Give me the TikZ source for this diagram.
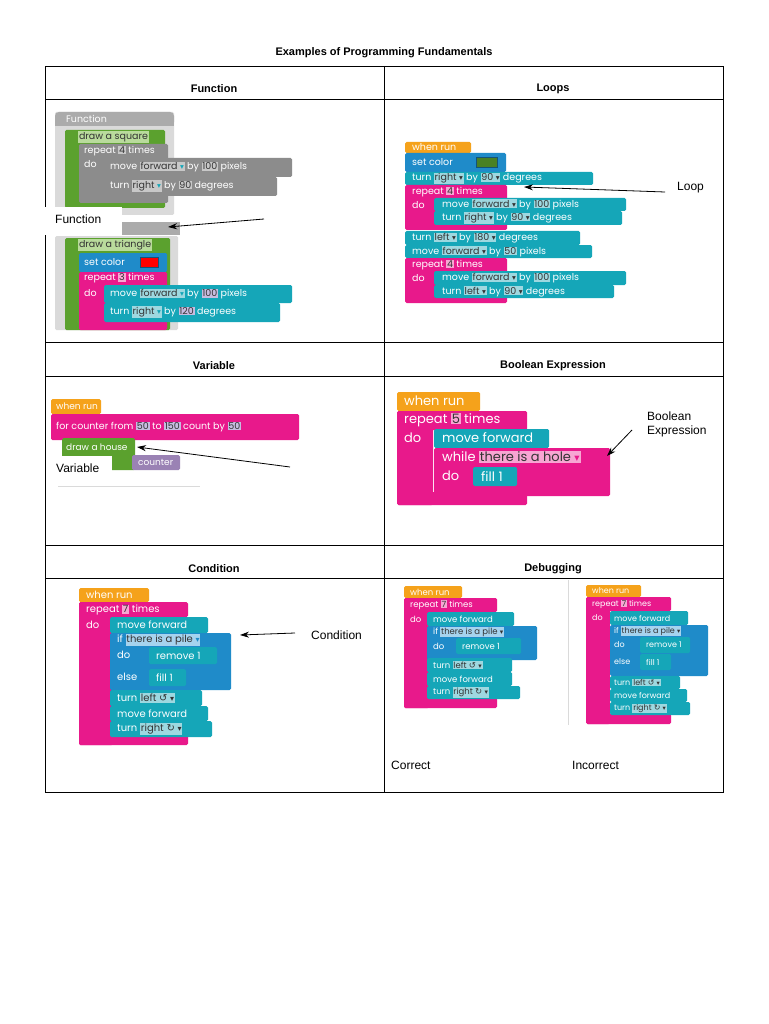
\documentclass[tikz,border=0pt]{standalone}
\usepackage{fontspec}
\setmainfont{Liberation Sans}
\newfontfamily\blkf{Poppins}
\newfontfamily\symf{DejaVu Sans}
\usetikzlibrary{arrows.meta}
\definecolor{pk}{HTML}{E8198B}
\definecolor{tl}{HTML}{15A6B8}
\definecolor{og}{HTML}{F5A21B}
\definecolor{gr}{HTML}{5BA12E}
\definecolor{bl}{HTML}{1F8BC9}
\definecolor{gy}{HTML}{8C8C8C}
\definecolor{lg}{HTML}{DADADA}
\definecolor{mg}{HTML}{ABABAB}
\definecolor{pu}{HTML}{9A82B4}
\definecolor{dk}{HTML}{333333}
\definecolor{ptl}{HTML}{9ED8E0}
\definecolor{ppk}{HTML}{F7A6D3}
\definecolor{pgy}{HTML}{C8C8C8}
\definecolor{ppu}{HTML}{C7BCE0}
\definecolor{pgr}{HTML}{B9DB9C}
\definecolor{pbl}{HTML}{A6D3EE}
\newcommand\dn{{\symf\scalebox{0.8}{▾}}}
\newcommand\lft{{\symf ↺}}
\newcommand\rgt{{\symf ↻}}
\newcommand\B[5]{\fill[#5,rounded corners=1.5pt] (#1,#2) rectangle (#3,#4);}
\newcommand\ib[2]{{\setlength\fboxsep{0.8pt}\colorbox{#1}{\textcolor{dk}{#2}}}}
\newcommand\T[4][9.5]{\node[anchor=west,inner sep=0,text=white,font=\blkf\fontsize{#1}{#1}\selectfont] at (#2,#3) {#4};}
\tikzset{lbl/.style={anchor=west,inner sep=0,font=\fontsize{12}{14}\selectfont},
hdr/.style={font=\bfseries\fontsize{11}{13}\selectfont},
arr/.style={-{Stealth[length=9pt,width=6pt]},line width=0.8pt}}
\begin{document}
\begin{tikzpicture}[x=1pt,y=-1pt]
\useasboundingbox[fill=white] (0,0) rectangle (768,1024);
% table
\node[hdr] (title) at (384,53) {Examples of Programming Fundamentals};
\draw[line width=0.7pt] (45,66) rectangle (723,792);
\foreach \yy in {99,342,376,545,578} \draw[line width=0.6pt] (45,\yy) -- (723,\yy);
\draw[line width=0.6pt] (384,66) -- (384,792);
\node[hdr] (h1) at (214,89) {Function};
\node[hdr] (h2) at (553,89) {Loops};
\node[hdr] (h3) at (214,366) {Variable};
\node[hdr] (h4) at (553,366) {Boolean Expression};
\node[hdr] (h5) at (214,569) {Condition};
\node[hdr] (h6) at (553,569) {Debugging};
% ---- Function
\B{55}{112}{174}{215}{lg}
\fill[mg,rounded corners=4pt] (55,112) rectangle (174,126); \fill[mg] (55,121) rectangle (174,126);
\T{66}{119}{Function}
\B{65}{130}{165}{208}{gr}
\T{78}{137}{\ib{pgr}{draw a square}}
\B{79}{144}{168}{203}{gy}
\T{84}{151}{repeat \ib{pgy}{4} times}
\T{84}{164}{do}
\B{104}{158}{292}{177}{gy}
\T{110}{167}{move \ib{pgy}{forward \textcolor{tl}{\dn}} by \ib{pgy}{100} pixels}
\B{104}{177}{277}{196}{gy}
\T{110}{186}{turn \ib{pgy}{right \textcolor{tl}{\dn}} by \ib{pgy}{90} degrees}
\fill[white] (45,207) rectangle (122,235);
\fill[mg] (122,222) rectangle (180,235);
\node[lbl] (flab) at (55,219) {Function};
\B{55}{236}{178}{330}{lg}
\B{65}{238}{170}{330}{gr}
\T{78}{245}{\ib{pgr}{draw a triangle}}
\B{79}{253}{167}{272}{bl}
\T{84}{262}{set color}
\fill[red,draw=bl!60!black] (140,257) rectangle (158,267);
\B{79}{272}{167}{330}{pk}
\T{84}{278}{repeat \ib{ppk}{3} times}
\T{84}{293}{do}
\B{104}{285}{292}{303}{tl}
\T{110}{294}{move \ib{ptl}{forward \textcolor{tl}{\dn}} by \ib{ppu}{100} pixels}
\B{104}{303}{280}{322}{tl}
\T{110}{312}{turn \ib{ptl}{right \textcolor{tl}{\dn}} by \ib{ppu}{120} degrees}
\coordinate (fa) at (264,219);
\coordinate (fb) at (168,227);
\draw[arr] (fa) -- (fb);
% ---- Loops
\B{405}{142}{471}{153}{og}
\T{412}{147.5}{when run}
\B{405}{153}{506}{172}{bl}
\T{412}{162}{set color}
\fill[gr!80!black,draw=bl!60!black] (476,157) rectangle (497,167);
\B{405}{172}{593}{185}{tl}
\T{412}{178.5}{turn \ib{ptl}{right \dn} by \ib{ptl}{90 \dn} degrees}
\B{405}{185}{507}{230}{pk}
\T{412}{192}{repeat \ib{ppk}{4} times}
\T{412}{205}{do}
\B{434}{198}{626}{211}{tl}
\T{442}{204.5}{move \ib{ptl}{forward \dn} by \ib{ptl}{100} pixels}
\B{434}{211}{622}{225}{tl}
\T{442}{218}{turn \ib{ptl}{right \dn} by \ib{ptl}{90 \dn} degrees}
\B{405}{231}{580}{245}{tl}
\T{412}{238}{turn \ib{ptl}{left \dn} by \ib{ptl}{180 \dn} degrees}
\B{405}{245}{592}{258}{tl}
\T{412}{251.5}{move \ib{ptl}{forward \dn} by \ib{ptl}{50} pixels}
\B{405}{258}{507}{303}{pk}
\T{412}{265}{repeat \ib{ppk}{4} times}
\T{412}{278}{do}
\B{434}{271}{626}{285}{tl}
\T{442}{278}{move \ib{ptl}{forward \dn} by \ib{ptl}{100} pixels}
\B{434}{285}{614}{298}{tl}
\T{442}{291.5}{turn \ib{ptl}{left \dn} by \ib{ptl}{90 \dn} degrees}
\node[lbl] (llab) at (677,188) {Loop};
\coordinate (la) at (665,192);
\coordinate (lb) at (524,187);
\draw[arr] (la) -- (lb);
% ---- Variable
\B{51}{399}{101}{414}{og}
\T[9]{56}{406}{when run}
\B{51}{414}{299}{440}{pk}
\T[9.5]{56}{427}{for counter from \ib{ppu}{50} to \ib{ppu}{150} count by \ib{ppu}{50}}
\B{62}{438}{135}{470}{gr}
\T[9]{66}{447}{draw a house}
\fill[white] (50,456) rectangle (112,480);
\B{132}{455}{180}{470}{pu}
\T[9]{138}{462.5}{counter}
\draw[lg] (58,486) -- (200,486);
\node[lbl] (vlab) at (56,468) {Variable};
\coordinate (va) at (290,467);
\coordinate (vb) at (137,447);
\draw[arr] (va) -- (vb);
% ---- Boolean
\B{397}{392}{480}{411}{og}
\T[13]{404}{401}{when run}
\B{397}{411}{527}{430}{pk}
\B{397}{411}{433}{505}{pk}
\B{397}{492}{527}{505}{pk}
\T[13]{404}{420}{repeat \ib{ppk}{5} times}
\T[13]{404}{438}{do}
\B{434}{429}{549}{448}{tl}
\T[13]{442}{438}{move forward}
\B{434}{448}{610}{496}{pk}
\T[13]{442}{457}{while \ib{ppk}{there is a hole \textcolor{pk}{\dn}}}
\T[13]{442}{476}{do}
\B{473}{467}{517}{486}{tl}
\T[13]{481}{476.5}{fill 1}
\node[lbl,align=left] (blab) at (647,424) {Boolean\\Expression};
\coordinate (ba) at (632,430);
\coordinate (bb) at (607,456);
\draw[arr] (ba) -- (bb);
% ---- Condition
\B{79}{588}{149}{602}{og}
\T[10]{86}{595}{when run}
\B{79}{602}{188}{617}{pk}
\B{79}{602}{113}{745}{pk}
\B{79}{735}{188}{745}{pk}
\T[10]{86}{610}{repeat \ib{ppk}{7} times}
\T[10]{86}{625}{do}
\B{110}{617}{208}{633}{tl}
\T[10]{117}{625}{move forward}
\B{110}{633}{231}{690}{bl}
\T[10]{117}{640}{if \ib{pbl}{there is a pile \textcolor{bl}{\dn}}}
\T[10]{117}{655}{do}
\T[10]{117}{677}{else}
\B{149}{647}{217}{664}{tl}
\T[10]{156}{655.5}{remove 1}
\B{149}{669}{186}{686}{tl}
\T[10]{156}{677.5}{fill 1}
\B{110}{690}{202}{706}{tl}
\T[10]{117}{698}{turn \ib{ptl}{left \lft\ \dn}}
\B{110}{706}{208}{721}{tl}
\T[10]{117}{713.5}{move forward}
\B{110}{721}{212}{737}{tl}
\T[10]{117}{729}{turn \ib{ptl}{right \rgt\ \dn}}
\node[lbl] (clab) at (311,635) {Condition};
\coordinate (ca) at (295,633);
\coordinate (cb) at (240,635);
\draw[arr] (ca) -- (cb);
% ---- Debugging correct
\B{404}{586}{462}{598}{og}
\T[8.5]{410}{592}{when run}
\B{404}{598}{497}{612}{pk}
\B{404}{598}{429}{708}{pk}
\B{404}{698}{497}{708}{pk}
\T[8.5]{410}{605}{repeat \ib{ppk}{7} times}
\T[8.5]{410}{619}{do}
\B{427}{612}{514}{626}{tl}
\T[8.5]{433}{619}{move forward}
\B{427}{626}{537}{660}{bl}
\T[8.5]{433}{632}{if \ib{pbl}{there is a pile \dn}}
\T[8.5]{433}{646}{do}
\B{456}{638}{521}{654}{tl}
\T[8.5]{462}{646}{remove 1}
\B{427}{658}{512}{672}{tl}
\T[8.5]{433}{665}{turn \ib{ptl}{left \lft\ \dn}}
\B{427}{672}{512}{686}{tl}
\T[8.5]{433}{679}{move forward}
\B{427}{686}{520}{699}{tl}
\T[8.5]{433}{692.5}{turn \ib{ptl}{right \rgt\ \dn}}
\draw[lg] (568,580) -- (568,725);
% incorrect
\B{586}{585}{641}{597}{og}
\T[8]{592}{591}{when run}
\B{586}{597}{671}{611}{pk}
\B{586}{597}{610}{724}{pk}
\B{586}{714}{671}{724}{pk}
\T[8]{592}{604}{repeat \ib{ppk}{7} times}
\T[8]{592}{618}{do}
\B{610}{611}{688}{625}{tl}
\T[8]{614}{618}{move forward}
\B{610}{625}{708}{676}{bl}
\T[8]{614}{631}{if \ib{pbl}{there is a pile \dn}}
\T[8]{614}{645}{do}
\T[8]{614}{662}{else}
\B{640}{637}{690}{653}{tl}
\T[8]{646}{645}{remove 1}
\B{640}{654}{671}{670}{tl}
\T[8]{646}{662}{fill 1}
\B{610}{676}{680}{689}{tl}
\T[8]{614}{682.5}{turn \ib{ptl}{left \lft\ \dn}}
\B{610}{689}{687}{702}{tl}
\T[8]{614}{695.5}{move forward}
\B{610}{702}{690}{715}{tl}
\T[8]{614}{708.5}{turn \ib{ptl}{right \rgt\ \dn}}
\node[lbl] (dc) at (391,765) {Correct};
\node[lbl] (di) at (572,765) {Incorrect};
\end{tikzpicture}
\end{document}
